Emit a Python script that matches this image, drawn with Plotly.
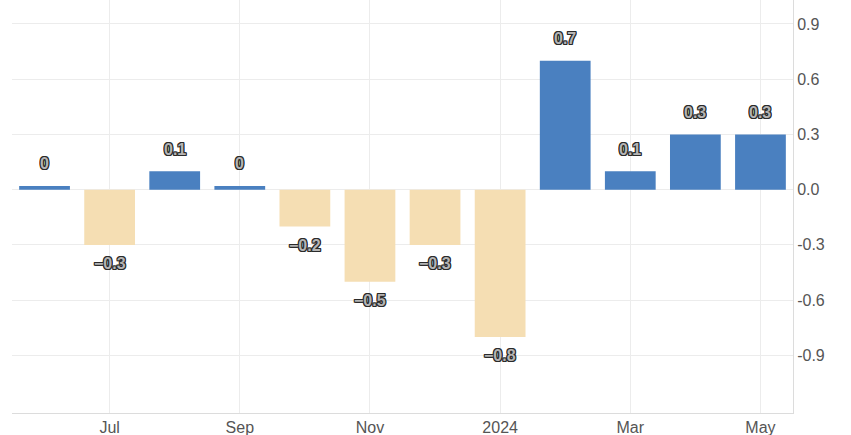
import plotly.graph_objects as go

months = ["Jun", "Jul", "Aug", "Sep", "Oct", "Nov", "Dec", "Jan 2024", "Feb", "Mar", "Apr", "May"]
values = [0.02, -0.3, 0.1, 0.02, -0.2, -0.5, -0.3, -0.8, 0.7, 0.1, 0.3, 0.3]
labels = ["0", "−0.3", "0.1", "0", "−0.2", "−0.5", "−0.3", "−0.8", "0.7", "0.1", "0.3", "0.3"]
tick_months = ["Jul", "Sep", "Nov", "Jan 2024", "Mar", "May"]
tick_text = ["Jul", "Sep", "Nov", "2024", "Mar", "May"]
y_ticks = [-0.9, -0.6, -0.3, 0.0, 0.3, 0.6, 0.9]
y_ticktext = ["-0.9", "-0.6", "-0.3", "0.0", "0.3", "0.6", "0.9"]

POS = "#4a80c0"
NEG = "#f5deb3"

fig = go.Figure()
fig.add_trace(go.Bar(
    x=months, y=values,
    marker=dict(color=[POS if v >= 0 else NEG for v in values], line=dict(width=0)),
    hoverinfo="skip",
))

oc = "#2a2a2a"
outline = ", ".join(f"{dx}px {dy}px 0 {oc}" for dx, dy in
                    [(-1, -1), (1, -1), (-1, 1), (1, 1), (0, 1), (0, -1), (1, 0), (-1, 0)])
for i, (v, t) in enumerate(zip(values, labels)):
    fig.add_annotation(
        x=i, y=v, text=t, showarrow=False,
        yshift=22 if v >= 0 else -19,
        font=dict(family="Liberation Sans, Arial, sans-serif", size=16, color="#b4b4b4",
                  weight="bold", shadow=outline),
    )

fig.update_layout(
    width=851, height=435,
    margin=dict(l=12, r=58, t=0, b=22),
    paper_bgcolor="white", plot_bgcolor="white",
    bargap=0.22,
    showlegend=False,
    font=dict(family="Liberation Sans, Arial, sans-serif", size=15, color="#555555"),
)
fig.update_xaxes(
    type="category",
    range=[-0.5, 11.5],
    tickmode="array", tickvals=tick_months, ticktext=tick_text,
    showgrid=True, gridcolor="#ececec", gridwidth=1,
    showline=True, linecolor="#dcdcdc", linewidth=1,
    ticks="", tickfont=dict(size=16, color="#555555"),
    fixedrange=True,
)
fig.update_yaxes(
    side="right",
    range=[-1.213, 1.03],
    tickmode="array", tickvals=y_ticks, ticktext=y_ticktext,
    showgrid=True, gridcolor="#ececec", gridwidth=1,
    zeroline=False,
    showline=True, linecolor="#dcdcdc", linewidth=1,
    ticks="", tickfont=dict(size=16, color="#555555"),
    fixedrange=True,
)

fig.write_html("out.html", config={"displayModeBar": False},
               post_script="document.body.style.margin='0';")
